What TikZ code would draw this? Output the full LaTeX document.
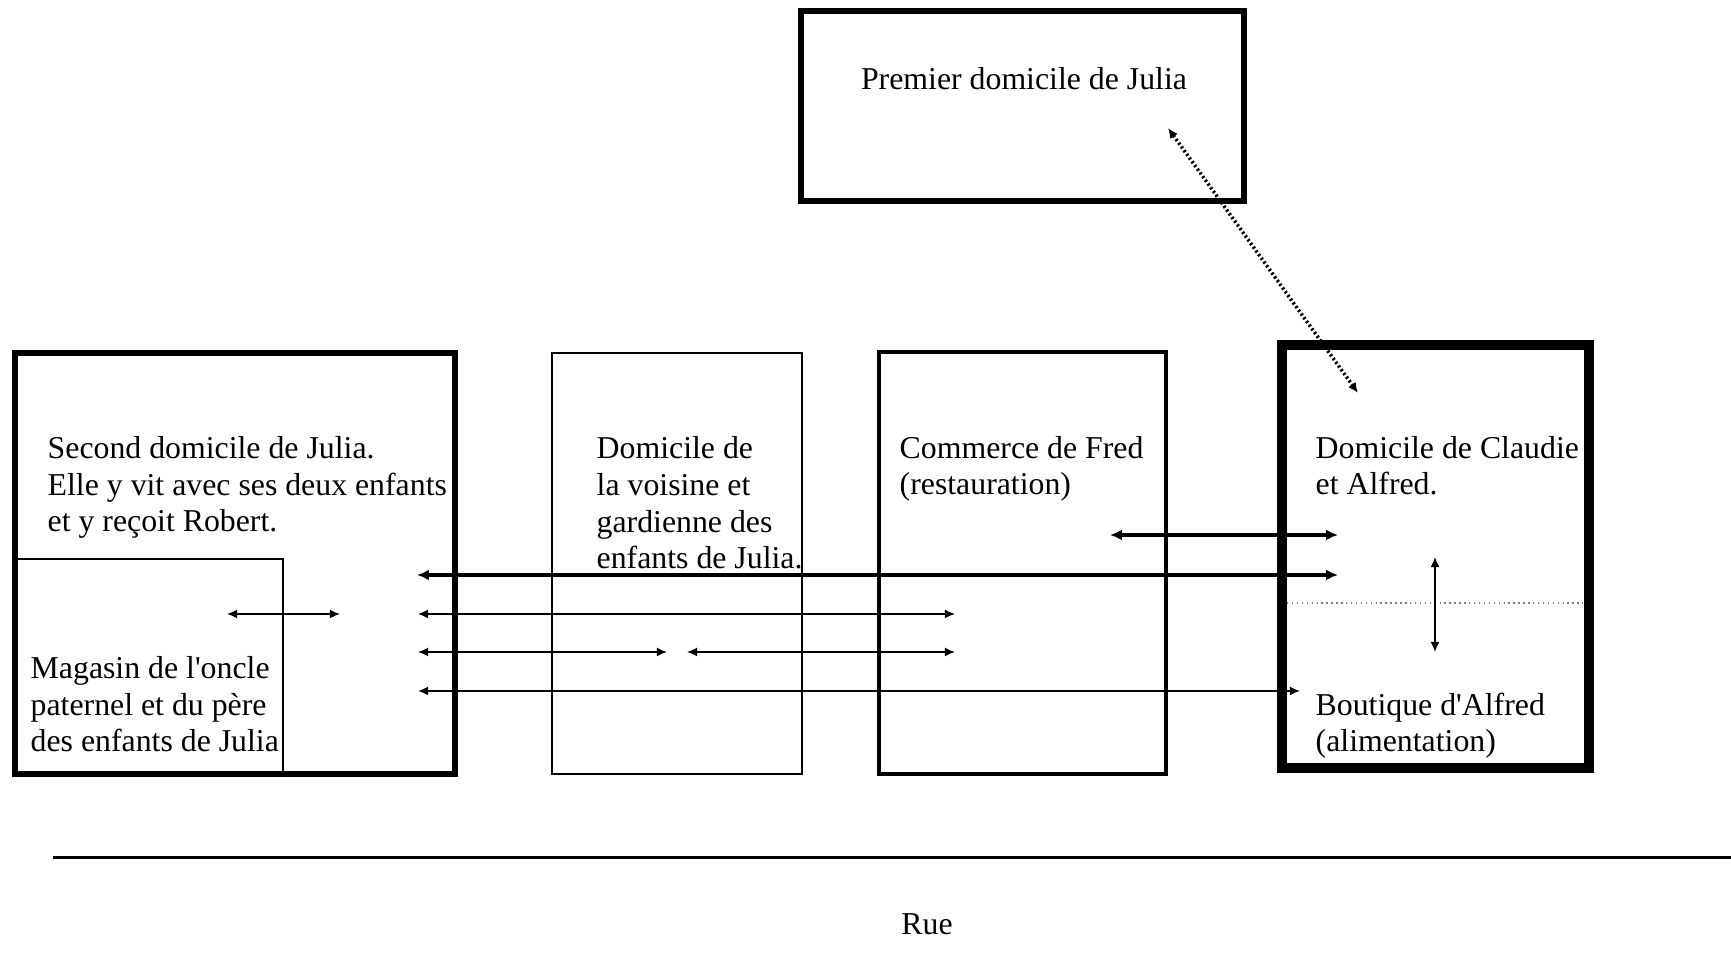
\documentclass[tikz,border=0pt]{standalone}
\usepackage{fontspec}
\setmainfont{Liberation Serif}
\usetikzlibrary{arrows.meta}

\tikzset{
	wall/.style={line width=1.45pt},
	thinwall/.style={line width=0.55pt},
	txt/.style={anchor=base west, inner sep=0pt, align=left, font=\fontsize{9.05pt}{10.5pt}\selectfont},
	link/.style={line width=0.45pt, {Latex[length=2.9pt,width=2.6pt]}-{Latex[length=2.9pt,width=2.6pt]}},
	biglink/.style={line width=1.15pt, {Latex[length=3.4pt,width=3.1pt]}-{Latex[length=3.4pt,width=3.1pt]}},
}

\begin{document}
\begin{tikzpicture}

	\useasboundingbox (0,0) rectangle (17.31,9.73);

	\draw[wall] (8.01,9.62) rectangle (12.44,7.72);
	\draw[wall] (0.15,6.20) rectangle (4.55,1.99);
	\draw[thinwall] (0.15,4.14) rectangle (2.83,1.99);
	\draw[thinwall] (5.52,6.20) rectangle (8.02,1.99);
	\draw[wall, line width=1.3pt] (8.79,6.21) rectangle (11.66,1.99);
	\draw[line width=2.85pt] (12.82,6.28) rectangle (15.89,2.05);
	\draw[gray, line width=0.4pt, densely dotted] (12.87,3.70) -- (15.83,3.70);
	\draw[line width=0.85pt] (0.53,1.15) -- (17.31,1.15);

	\node[txt, anchor=base] (premier) at (10.24,8.83) {Premier domicile de Julia};
	\node[txt] (second) at (0.47,4.41) {Second domicile de Julia.\\Elle y vit avec ses deux enfants\\et y reçoit Robert.};
	\node[txt] (magasin) at (0.30,2.21) {Magasin de l\textquotesingle oncle\\paternel et du père\\des enfants de Julia};
	\node[txt] (voisine) at (5.96,4.04) {Domicile de\\la voisine et\\gardienne des\\enfants de Julia.};
	\node[txt] (commerce) at (8.99,4.78) {Commerce de Fred\\(restauration)};
	\node[txt] (claudie) at (13.15,4.78) {Domicile de Claudie\\et Alfred.};
	\node[txt] (boutique) at (13.15,2.21) {Boutique d\textquotesingle Alfred\\(alimentation)};
	\node[txt, anchor=base] (rue) at (9.27,0.38) {Rue};

	\coordinate (fredW) at (11.10,4.38);
	\coordinate (fredE) at (13.38,4.38);
	\coordinate (r1W) at (4.17,3.98);
	\coordinate (r1E) at (13.38,3.98);
	\coordinate (magW) at (2.27,3.59);
	\coordinate (magE) at (3.40,3.59);
	\coordinate (r2W) at (4.18,3.59);
	\coordinate (r2E) at (9.55,3.59);
	\coordinate (r3W) at (4.18,3.21);
	\coordinate (r3M) at (6.67,3.21);
	\coordinate (r3N) at (6.87,3.21);
	\coordinate (r3E) at (9.55,3.21);
	\coordinate (r4W) at (4.18,2.82);
	\coordinate (r4E) at (13.00,2.82);
	\coordinate (etageN) at (14.35,4.16);
	\coordinate (etageS) at (14.35,3.21);
	\coordinate (premS) at (11.68,8.45);
	\coordinate (claudN) at (13.58,5.80);

	\draw[biglink] (fredW) -- (fredE);
	\draw[biglink] (r1W) -- (r1E);
	\draw[link] (magW) -- (magE);
	\draw[link] (r2W) -- (r2E);
	\draw[link] (r3W) -- (r3M);
	\draw[link] (r3N) -- (r3E);
	\draw[link] (r4W) -- (r4E);
	\draw[link] (etageN) -- (etageS);
	\draw[link, line width=1pt, dash pattern=on 0.6pt off 0.7pt] (premS) -- (claudN);

\end{tikzpicture}
\end{document}
